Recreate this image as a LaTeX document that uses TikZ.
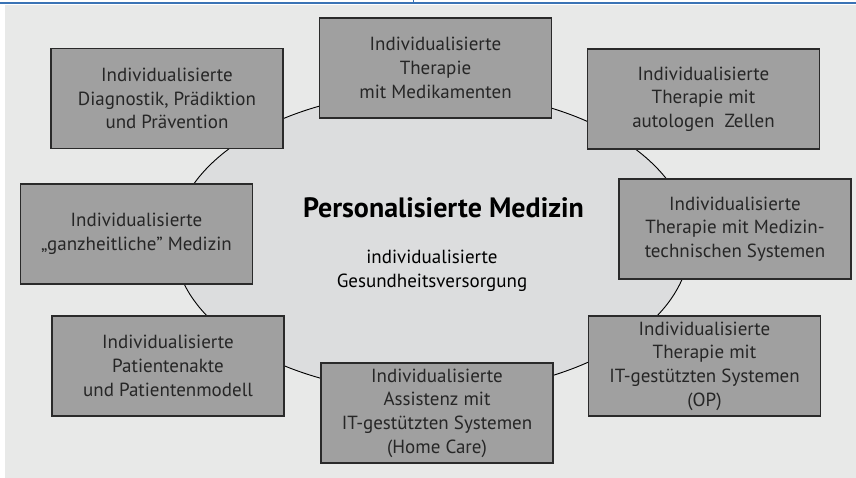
\documentclass[tikz,border=0pt]{standalone}
\usepackage{fontspec}
\setmainfont{PT Sans}
\usetikzlibrary{shapes.geometric}
\definecolor{bgc}{HTML}{E8E9E8}
\definecolor{ellc}{HTML}{DCDDDE}
\definecolor{boxc}{HTML}{A0A0A0}
\definecolor{edgec}{HTML}{2A2A2A}
\definecolor{bluec}{HTML}{3A73B5}
\begin{document}
\begin{tikzpicture}[x=1pt,y=-1pt,
  topicbox/.style={draw=edgec,line width=1.2pt,fill=boxc,rectangle,
    minimum width=232pt,minimum height=100pt,inner sep=0pt,
    align=center,text=black!85,
    font=\fontsize{19pt}{23.7pt}\selectfont},
  hub/.style={draw=black,line width=0.9pt,fill=ellc,ellipse,
    minimum width=516pt,minimum height=302pt,inner sep=0pt}]
\useasboundingbox (0,0) rectangle (856,478);
\fill[bgc] (5,5) rectangle (856,478);
\draw[bluec,line width=2pt] (0,3) -- (856,3);
\coordinate (tickA) at (413,0);
\coordinate (tickB) at (413,4);
\draw[bluec,line width=0.8pt] (tickA) -- (tickB);
\node[hub] (hub) at (432,242) {};
\node[font=\bfseries\fontsize{28pt}{31pt}\selectfont] (title) at (443.5,208) {Personalisierte Medizin};
\node[align=center,font=\fontsize{19pt}{23.5pt}\selectfont] (sub) at (432,271) {individualisierte\\Gesundheitsversorgung};
\node[topicbox] (tc) at (435.5,68) {Individualisierte\\Therapie\\mit Medikamenten};
\node[topicbox] (tl) at (167,98.5) {Individualisierte\\Diagnostik, Prädiktion\\und Prävention};
\node[topicbox] (tr) at (703.5,99) {Individualisierte\\Therapie mit\\autologen\ \ Zellen};
\node[topicbox] (lm) at (136.5,234) {Individualisierte\\„ganzheitliche" Medizin};
\node[topicbox] (rm) at (735,229) {Individualisierte\\Therapie mit Medizin-\\technischen Systemen};
\node[topicbox] (bl) at (168,366) {Individualisierte\\Patientenakte\\und Patientenmodell};
\node[topicbox] (br) at (704.5,366) {Individualisierte\\Therapie mit\\IT-gestützten Systemen\\(OP)};
\node[topicbox] (bc) at (437,413) {Individualisierte\\Assistenz mit\\IT-gestützten Systemen\\(Home Care)};
\end{tikzpicture}
\end{document}
